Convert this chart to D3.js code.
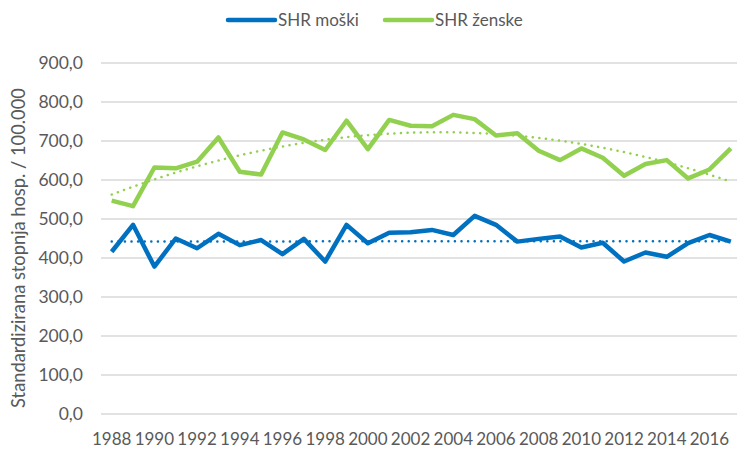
<!DOCTYPE html>
<html>
<head>
<meta charset="utf-8">
<script src="https://cdn.jsdelivr.net/npm/d3@7"></script>
<style>
  body { margin: 0; background: #fff; }
  svg { display: block; font-family: Lato, "Open Sans", sans-serif; }
</style>
</head>
<body>
<svg id="chart" width="737" height="450"></svg>
<script>
// Years on the category axis
const years = d3.range(1988, 2018);
// SHR moški (men)
const menValues = [416, 485, 378, 450, 425, 462, 433, 446, 410, 449, 391, 485, 438, 465, 466,
                   472, 459, 508, 485, 442, 449, 455, 427, 439, 391, 414, 403, 438, 459, 442];
// SHR ženske (women)
const womenValues = [547, 533, 632, 630, 647, 709, 621, 614, 722, 704, 677, 752, 679, 754, 739,
                     738, 767, 756, 714, 720, 675, 651, 681, 657, 611, 641, 651, 604, 627, 681];
const yTicks = [0, 100, 200, 300, 400, 500, 600, 700, 800, 900];
const seriesNames = ["SHR moški", "SHR ženske"];
const colors = ["#0070C0", "#92D050"];

const margin = {left: 101, top: 63, bottom: 36};
const step = 21.35;
const width = step * years.length;
const height = 450 - margin.top - margin.bottom;

const svg = d3.select("#chart");

const x = d3.scaleBand()
    .domain(years)
    .range([margin.left, margin.left + width]);

const y = d3.scaleLinear()
    .domain([0, 900])
    .range([margin.top + height, margin.top]);

const fmt = v => d3.format(".1f")(v).replace(".", ",");

// Gridlines
svg.append("g")
    .selectAll("line")
    .data(yTicks)
    .join("line")
    .attr("x1", margin.left)
    .attr("x2", margin.left + width)
    .attr("y1", d => y(d))
    .attr("y2", d => y(d))
    .style("stroke", "#d9d9d9")
    .style("stroke-width", "1.5px");

// Y labels
svg.append("g")
    .selectAll("text")
    .data(yTicks)
    .join("text")
    .attr("x", 83)
    .attr("y", d => y(d))
    .attr("dy", "0.35em")
    .attr("text-anchor", "end")
    .style("fill", "#595959")
    .style("font-size", "17.5px")
    .text(fmt);

// X labels, every second year
svg.append("g")
    .selectAll("text")
    .data(years.filter(d => d % 2 === 0))
    .join("text")
    .attr("x", d => x(d) + x.bandwidth() / 2)
    .attr("y", 445)
    .attr("text-anchor", "middle")
    .style("fill", "#595959")
    .style("font-size", "17px")
    .text(d => d);

// Y axis title
svg.append("text")
    .attr("transform", `translate(25,248) rotate(-90)`)
    .attr("text-anchor", "middle")
    .style("fill", "#595959")
    .style("font-size", "18.3px")
    .text("Standardizirana stopnja hosp. / 100.000");

const cx = d => x(d) + x.bandwidth() / 2;

// least squares polynomial fit (Excel-style trendline)
function polyFit(xs, ys, order) {
    const n = order + 1;
    const A = d3.range(n).map(() => new Array(n + 1).fill(0));
    xs.forEach((xv, k) => {
        for (let i = 0; i < n; i++) {
            for (let j = 0; j < n; j++) A[i][j] += Math.pow(xv, i + j);
            A[i][n] += ys[k] * Math.pow(xv, i);
        }
    });
    for (let i = 0; i < n; i++) {
        let p = i;
        for (let r = i + 1; r < n; r++) if (Math.abs(A[r][i]) > Math.abs(A[p][i])) p = r;
        [A[i], A[p]] = [A[p], A[i]];
        for (let r = 0; r < n; r++) {
            if (r === i) continue;
            const f = A[r][i] / A[i][i];
            for (let c = i; c <= n; c++) A[r][c] -= f * A[i][c];
        }
    }
    const coef = A.map((row, i) => row[n] / row[i]);
    return t => coef.reduce((s, c, i) => s + c * Math.pow(t, i), 0);
}

const idx = years.map((d, i) => i + 1);
const trends = [polyFit(idx, menValues, 1), polyFit(idx, womenValues, 2)];
const series = [menValues, womenValues];

const line = d3.line()
    .x(d => cx(d.year))
    .y(d => y(d.value));

// Trendlines (dotted)
series.forEach((vals, s) => {
    const pts = d3.range(1, years.length + 0.001, 0.25).map(t => ({t: t, value: trends[s](t)}));
    svg.append("path")
        .datum(pts)
        .attr("d", d3.line()
            .x(d => cx(years[0]) + (d.t - 1) * step)
            .y(d => y(d.value)))
        .style("fill", "none")
        .style("stroke", colors[s])
        .style("stroke-width", "2.5px")
        .style("stroke-linecap", "round")
        .style("stroke-dasharray", "0.1 6.5");
});

// Data lines
series.forEach((vals, s) => {
    svg.append("path")
        .datum(years.map((yr, i) => ({year: yr, value: vals[i]})))
        .attr("d", line)
        .style("fill", "none")
        .style("stroke", colors[s])
        .style("stroke-width", "4.5px")
        .style("stroke-linejoin", "round");
});

// Legend
const legendX = [228, 385];
seriesNames.forEach((name, s) => {
    const g = svg.append("g").attr("transform", `translate(${legendX[s]},20)`);
    g.append("line")
        .attr("x1", 0).attr("x2", 47)
        .style("stroke", colors[s])
        .style("stroke-width", "4.5px")
        .style("stroke-linecap", "round");
    g.append("text")
        .attr("x", 50)
        .attr("dy", "0.35em")
        .style("fill", "#595959")
        .style("font-size", "17px")
        .text(name);
});
</script>
</body>
</html>
